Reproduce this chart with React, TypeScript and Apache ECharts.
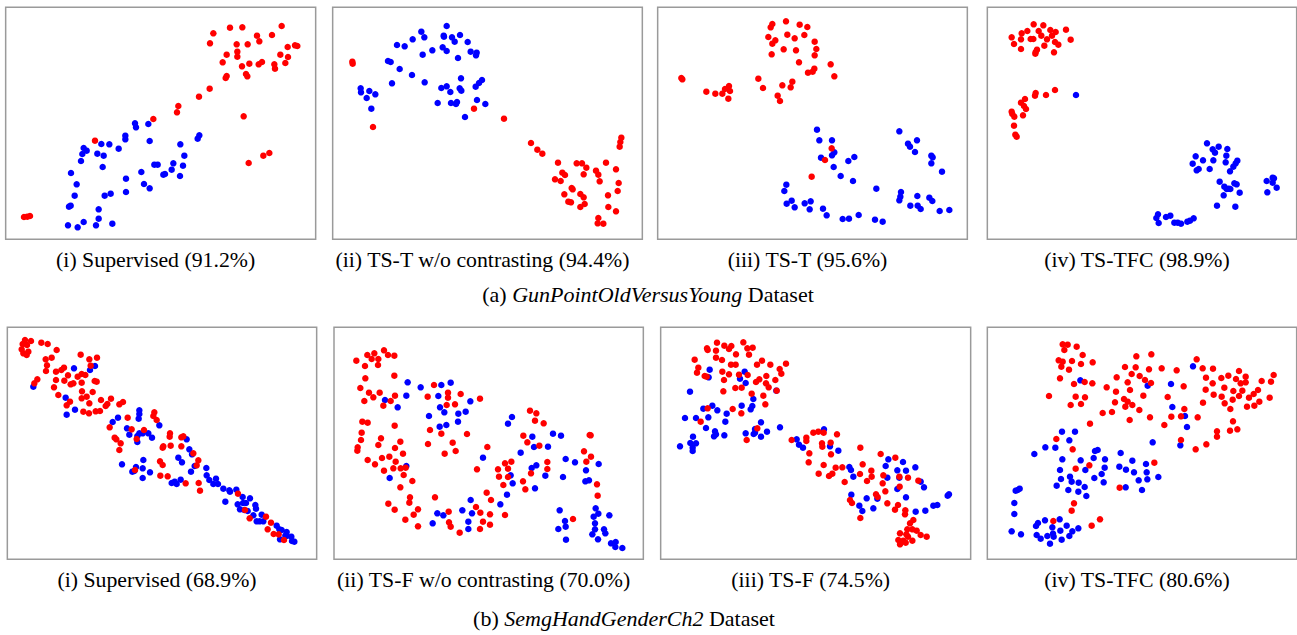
import React, { useEffect, useRef } from "react";
import * as echarts from "echarts";

// t-SNE embedding coordinates (arbitrary units, y grows downward)
const gunSupRed = [[72,651],[82,650],[90,648],[640,100],[690,83],[727,82],[845,78],[630,130],[710,133],[743,133],[771,107],[778,124],[816,105],[863,141],[885,136],[892,138],[680,164],[712,155],[712,170],[668,187],[726,199],[748,191],[776,193],[786,186],[823,193],[825,206],[841,164],[864,171],[856,189],[680,228],[677,234],[738,222],[742,229],[629,266],[597,290],[535,318],[531,337],[460,357],[285,422],[731,349],[746,489],[790,467],[808,459]];
const gunSupBlue = [[405,370],[408,382],[445,372],[376,407],[376,418],[449,423],[304,432],[328,433],[251,444],[260,452],[356,446],[247,462],[292,461],[311,467],[243,483],[308,501],[213,519],[463,494],[473,494],[520,490],[549,497],[515,509],[495,522],[490,524],[424,516],[540,528],[541,433],[553,467],[593,416],[598,406],[378,536],[230,553],[432,552],[449,565],[378,576],[332,581],[314,587],[224,587],[212,617],[207,620],[296,628],[296,656],[251,666],[204,676],[233,682],[288,676],[337,671]];

const gunTwoRed = [[82,185],[83,191],[144,381],[447,326],[537,356],[618,429],[637,449],[652,461],[889,413],[886,426],[884,440],[699,488],[755,490],[771,490],[784,503],[843,488],[813,512],[820,524],[873,508],[712,518],[720,525],[690,538],[707,543],[776,523],[824,544],[881,549],[740,564],[743,568],[718,583],[766,582],[776,592],[849,586],[878,573],[730,605],[738,607],[779,612],[766,621],[850,621],[873,634],[820,654],[818,670],[835,671]];
const gunTwoBlue = [[365,78],[289,95],[263,118],[298,112],[356,107],[357,110],[381,112],[389,125],[405,105],[428,126],[216,135],[239,139],[353,142],[365,153],[322,151],[293,164],[437,155],[455,158],[453,166],[399,174],[189,183],[197,186],[224,207],[261,225],[201,250],[299,247],[408,235],[471,240],[462,249],[452,260],[404,265],[409,272],[349,264],[365,259],[376,276],[107,265],[108,277],[133,273],[151,283],[125,294],[338,309],[378,309],[393,312],[396,306],[456,300],[481,312],[139,326],[420,351]];

const gunTsRed = [[367,72],[362,82],[408,64],[449,74],[472,81],[355,111],[412,104],[434,115],[463,105],[376,121],[367,131],[494,125],[401,148],[438,151],[499,147],[365,163],[494,166],[447,187],[542,193],[474,218],[488,215],[493,206],[553,229],[94,234],[97,238],[325,236],[339,264],[397,256],[427,245],[422,262],[237,258],[225,267],[240,273],[169,275],[196,281],[217,281],[235,296],[383,287],[390,303],[545,445],[525,480],[485,530]];
const gunTsBlue = [[501,389],[508,421],[546,421],[553,457],[546,466],[513,473],[595,483],[613,471],[551,501],[572,528],[609,543],[409,554],[403,573],[410,611],[425,602],[434,622],[464,610],[482,604],[479,628],[519,626],[530,646],[578,657],[597,656],[626,645],[675,659],[698,665],[679,566],[748,394],[801,421],[774,431],[780,440],[795,456],[844,467],[848,472],[844,490],[876,515],[753,576],[751,590],[748,601],[802,588],[781,617],[803,617],[812,627],[838,593],[847,603],[869,633],[898,630]];

const gunTfcRed = [[176,73],[205,76],[110,112],[140,100],[157,93],[191,93],[226,90],[242,96],[273,89],[117,132],[138,118],[167,117],[175,117],[199,107],[216,118],[231,107],[138,147],[186,149],[182,156],[181,161],[208,137],[240,126],[250,134],[237,157],[287,119],[240,270],[213,285],[182,279],[180,287],[150,297],[138,308],[147,318],[153,327],[110,335],[112,342],[118,350],[144,346],[117,377],[121,404],[125,410]];
const gunTfcBlue = [[303,285],[696,430],[713,448],[731,440],[757,447],[720,458],[754,467],[662,469],[684,481],[715,481],[752,487],[787,482],[782,490],[775,500],[653,491],[671,507],[665,511],[704,507],[765,514],[734,545],[748,560],[761,566],[766,567],[755,567],[778,550],[785,553],[746,586],[794,578],[726,617],[781,620],[875,543],[893,533],[897,535],[893,548],[905,563],[877,577],[549,643],[544,654],[551,669],[573,651],[586,647],[598,668],[608,668],[618,671],[637,665],[645,662],[656,655]];

const semSupRed = [[75,60],[93,63],[68,72],[81,75],[65,88],[70,100],[80,105],[85,95],[124,68],[143,72],[170,90],[242,104],[268,118],[291,113],[137,118],[155,113],[141,136],[138,153],[168,155],[184,150],[192,143],[272,137],[245,162],[204,166],[233,170],[256,165],[112,178],[103,190],[168,180],[193,182],[162,202],[220,190],[212,193],[245,188],[284,183],[290,185],[175,225],[246,214],[278,216],[245,235],[260,230],[303,240],[333,236],[200,256],[210,245],[268,250],[250,275],[267,280],[287,274],[300,273],[317,258],[322,252],[358,253],[369,246],[463,277],[460,288],[470,300],[383,293],[395,328],[432,330],[329,322],[344,353],[349,358],[362,370],[358,390],[410,357],[510,340],[509,350],[544,352],[550,349],[490,379],[488,383],[512,377],[544,379],[580,400],[595,421],[590,436],[480,424],[488,435],[481,467],[503,469],[557,490],[596,489],[600,512],[405,450],[714,521],[735,570],[798,590],[749,595],[813,608],[803,628],[821,642],[836,643],[852,660]];
const semSupBlue = [[100,200],[222,145],[270,150],[285,138],[197,233],[225,269],[200,284],[418,271],[418,282],[416,296],[478,316],[354,293],[338,306],[381,325],[388,344],[412,348],[418,340],[428,340],[445,340],[456,353],[412,366],[560,358],[568,388],[576,403],[535,413],[546,427],[573,455],[584,438],[619,444],[620,466],[628,480],[648,476],[640,492],[654,492],[430,420],[428,445],[408,441],[403,453],[397,455],[428,474],[450,457],[366,433],[515,489],[524,485],[530,492],[542,479],[670,506],[688,511],[690,515],[709,509],[676,545],[728,531],[750,535],[738,549],[729,549],[713,553],[720,568],[733,570],[766,555],[768,566],[743,573],[760,586],[785,584],[770,604],[779,604],[790,604],[830,617],[838,628],[845,630],[860,636],[856,647],[860,648],[874,650],[876,663],[883,665],[840,658]];

const semTwoRed = [[94,122],[127,105],[148,100],[177,91],[189,105],[208,107],[140,117],[160,117],[159,135],[120,138],[208,167],[121,175],[106,204],[132,218],[145,232],[164,218],[118,243],[175,257],[197,243],[210,227],[112,305],[128,308],[209,317],[110,338],[108,360],[168,355],[160,375],[226,365],[98,382],[97,392],[210,384],[234,401],[193,410],[171,414],[128,420],[150,433],[212,425],[205,445],[177,452],[227,445],[242,443],[236,465],[262,483],[226,502],[255,532],[253,548],[190,551],[209,569],[279,568],[266,584],[241,599],[279,619],[327,195],[308,230],[369,218],[369,233],[407,222],[390,253],[365,255],[465,236],[315,330],[349,341],[426,342],[309,372],[383,368],[392,393],[359,401],[487,381],[456,448],[330,532],[371,575],[372,607],[377,620],[404,638],[453,561],[466,578],[495,583],[474,605],[465,627],[495,614],[485,518],[498,540],[540,585],[519,448],[522,470],[540,430],[559,425],[549,446],[535,495],[549,471],[594,484],[601,508],[615,272],[634,280],[630,302],[656,310],[595,347],[607,367],[643,377],[667,426],[667,447],[618,460],[794,345],[797,346],[777,394],[798,410],[784,425],[816,493],[818,527],[744,597]];
const semTwoBlue = [[248,187],[287,202],[244,227],[180,240],[218,262],[312,288],[349,195],[377,188],[340,228],[345,262],[358,277],[344,320],[364,315],[400,281],[422,275],[399,305],[436,244],[244,438],[194,474],[474,413],[437,540],[412,571],[441,580],[430,605],[430,627],[337,580],[355,586],[323,610],[526,553],[546,524],[561,291],[549,311],[587,398],[622,350],[627,381],[669,380],[684,341],[708,347],[620,444],[634,436],[557,466],[563,490],[630,505],[661,467],[722,417],[750,427],[821,432],[714,471],[783,451],[781,484],[792,481],[704,571],[720,603],[722,620],[700,627],[723,659],[812,565],[820,581],[853,586],[806,590],[810,610],[810,628],[837,628],[841,640],[802,643],[819,658],[858,670],[872,666],[871,681],[892,684]];

const semTsRed = [[201,68],[280,67],[171,85],[173,90],[223,77],[244,78],[237,87],[292,85],[308,83],[198,92],[258,103],[297,104],[198,113],[216,120],[134,119],[243,134],[257,134],[336,122],[321,134],[361,134],[408,131],[145,143],[141,158],[217,155],[237,163],[164,168],[170,170],[267,164],[293,165],[349,168],[389,147],[394,161],[222,180],[318,186],[328,178],[376,180],[348,190],[356,202],[256,204],[275,203],[220,214],[305,221],[380,212],[340,227],[346,253],[248,267],[274,280],[173,265],[152,305],[322,325],[290,360],[425,360],[469,353],[469,363],[490,338],[505,335],[521,338],[561,343],[516,370],[517,380],[542,368],[543,403],[478,400],[476,427],[521,435],[506,461],[537,468],[547,461],[557,443],[577,442],[631,383],[692,402],[736,413],[638,433],[630,462],[664,452],[665,470],[651,483],[700,466],[698,490],[748,470],[774,473],[805,482],[584,486],[600,540],[606,549],[631,594],[678,523],[683,531],[706,514],[712,550],[744,555],[749,500],[766,571],[765,583],[735,569],[780,610],[790,600],[772,628],[787,628],[800,632],[750,640],[769,643],[774,650],[745,660],[760,662],[787,662],[750,673],[767,668],[812,645],[830,650]];
const semTsBlue = [[179,149],[176,172],[284,155],[270,176],[287,189],[379,212],[120,215],[310,237],[307,258],[302,268],[275,257],[187,257],[160,266],[175,292],[202,271],[230,281],[226,305],[105,294],[138,294],[168,324],[195,334],[198,343],[192,349],[223,346],[287,340],[315,327],[315,338],[311,342],[333,307],[351,335],[333,350],[390,322],[129,350],[90,379],[121,369],[138,370],[128,383],[128,393],[440,358],[447,374],[459,383],[522,328],[540,379],[565,392],[598,441],[603,450],[610,470],[715,418],[707,438],[759,426],[742,451],[768,452],[796,442],[712,473],[748,473],[812,485],[822,502],[742,507],[768,532],[604,524],[650,535],[682,536],[628,557],[637,573],[670,565],[797,575],[826,572],[850,557],[862,555],[893,527],[897,523]];

const semTfcRed = [[263,73],[278,74],[305,80],[268,90],[323,105],[251,121],[263,125],[291,123],[318,132],[353,127],[259,140],[282,149],[255,175],[297,192],[329,186],[352,190],[222,228],[302,230],[330,232],[287,255],[318,252],[345,311],[484,109],[529,103],[450,141],[482,142],[522,148],[560,145],[470,162],[494,168],[510,180],[528,189],[425,172],[458,187],[395,202],[423,215],[465,210],[505,227],[447,237],[458,245],[472,255],[420,247],[451,260],[493,270],[383,279],[411,276],[464,300],[525,292],[578,231],[605,151],[626,199],[628,267],[589,290],[618,289],[568,315],[618,360],[662,388],[665,118],[683,145],[714,146],[693,173],[713,190],[739,174],[760,167],[792,153],[812,170],[783,177],[797,190],[812,187],[860,183],[888,185],[896,165],[692,209],[716,224],[748,203],[740,230],[775,213],[802,212],[792,228],[773,239],[749,250],[684,248],[766,267],[822,233],[836,222],[849,210],[838,257],[816,260],[853,245],[884,233],[668,292],[726,334],[726,350],[765,332],[774,304],[787,328],[694,373],[244,357],[293,388],[302,446],[343,436],[538,428],[434,503],[297,550],[290,572],[235,603],[375,598],[350,617]];
const semTfcBlue = [[316,181],[518,197],[588,192],[592,261],[630,288],[636,321],[654,139],[533,367],[616,376],[261,335],[300,335],[283,361],[211,382],[241,383],[178,402],[262,418],[317,421],[356,414],[360,393],[368,390],[390,418],[437,399],[472,422],[513,432],[255,450],[331,450],[389,443],[433,440],[453,449],[477,457],[515,457],[380,462],[258,477],[285,470],[290,485],[311,488],[358,474],[386,487],[245,497],[329,501],[517,478],[550,471],[491,481],[452,502],[501,510],[280,510],[310,515],[334,528],[122,512],[128,510],[134,506],[118,549],[118,582],[110,634],[138,643],[183,618],[210,601],[189,609],[254,598],[275,617],[310,625],[232,622],[234,641],[256,632],[292,634],[283,648],[260,659],[185,645],[197,656],[217,648],[236,650],[225,671]];

const captionsA = ["(i) Supervised (91.2%)", "(ii) TS-T w/o contrasting (94.4%)", "(iii) TS-T (95.6%)", "(iv) TS-TFC (98.9%)"];
const captionsB = ["(i) Supervised (68.9%)", "(ii) TS-F w/o contrasting (70.0%)", "(iii) TS-F (74.5%)", "(iv) TS-TFC (80.6%)"];
const datasetA = "GunPointOldVersusYoung";
const datasetB = "SemgHandGenderCh2";

const seriesRed = [gunSupRed, gunTwoRed, gunTsRed, gunTfcRed, semSupRed, semTwoRed, semTsRed, semTfcRed];
const seriesBlue = [gunSupBlue, gunTwoBlue, gunTsBlue, gunTfcBlue, semSupBlue, semTwoBlue, semTsBlue, semTfcBlue];

// layout: page origin of each panel region and axis extents
const layout = [
  { ox: 0, oy: 0, x0: 17, x1: 947, y0: 22, y1: 718 },
  { ox: 325, oy: 0, x0: 23, x1: 952, y0: 22, y1: 718 },
  { ox: 650, oy: 0, x0: 23, x1: 952, y0: 22, y1: 718 },
  { ox: 975, oy: 0, x0: 37, x1: 965, y0: 22, y1: 718 },
  { ox: 0, oy: 320, x0: 22, x1: 950, y0: 22, y1: 718 },
  { ox: 325, oy: 320, x0: 27, x1: 955, y0: 22, y1: 718 },
  { ox: 650, oy: 320, x0: 32, x1: 962, y0: 22, y1: 718 },
  { ox: 975, oy: 320, x0: 37, x1: 965, y0: 22, y1: 718 },
];

const FONT = "Liberation Serif";

export default function App() {
  const ref = useRef<HTMLDivElement>(null);
  useEffect(() => {
    if (!ref.current) return;
    const chart = echarts.init(ref.current, undefined, { renderer: "svg" });
    const grids: any[] = [];
    const xAxes: any[] = [];
    const yAxes: any[] = [];
    const series: any[] = [];
    const graphics: any[] = [];
    layout.forEach((p, i) => {
      const left = p.ox + p.x0 / 3;
      const top = p.oy + p.y0 / 3;
      const width = (p.x1 - p.x0) / 3;
      const height = (p.y1 - p.y0) / 3;
      grids.push({ left, top, width, height, show: true, borderColor: "#9a9a9a", borderWidth: 1.5, backgroundColor: "#fff" });
      xAxes.push({ type: "value", gridIndex: i, min: p.x0, max: p.x1, show: false });
      yAxes.push({ type: "value", gridIndex: i, min: p.y0, max: p.y1, inverse: true, show: false });
      series.push({
        type: "scatter", xAxisIndex: i, yAxisIndex: i, data: seriesBlue[i],
        symbolSize: 6.5, itemStyle: { color: "#0000ff", opacity: 1 }, silent: true,
      });
      series.push({
        type: "scatter", xAxisIndex: i, yAxisIndex: i, data: seriesRed[i],
        symbolSize: 6.5, itemStyle: { color: "#ff0000", opacity: 1 }, silent: true,
      });
      const caps = i < 4 ? captionsA : captionsB;
      graphics.push({
        type: "text", x: left + width / 2 - 5, y: i < 4 ? 260 : 580,
        style: { text: caps[i % 4], font: `21.8px ${FONT}`, fill: "#000", textAlign: "center", textVerticalAlign: "middle" },
      });
    });
    const rich = {
      n: { fontFamily: FONT, fontSize: 22, fontStyle: "normal", color: "#000" },
      it: { fontFamily: FONT, fontSize: 22, fontStyle: "italic", color: "#000" },
    };
    graphics.push({
      type: "text", x: 648, y: 294,
      style: { text: `{n|(a) }{it|${datasetA}}{n| Dataset}`, rich, textAlign: "center", textVerticalAlign: "middle" },
    });
    graphics.push({
      type: "text", x: 624, y: 618,
      style: { text: `{n|(b) }{it|${datasetB}}{n| Dataset}`, rich, textAlign: "center", textVerticalAlign: "middle" },
    });
    chart.setOption({
      animation: false,
      backgroundColor: "#fff",
      grid: grids,
      xAxis: xAxes,
      yAxis: yAxes,
      series,
      graphic: graphics,
    });
    return () => chart.dispose();
  }, []);
  return <div ref={ref} style={{ position: "fixed", left: 0, top: 0, width: 1297, height: 635 }} />;
}
